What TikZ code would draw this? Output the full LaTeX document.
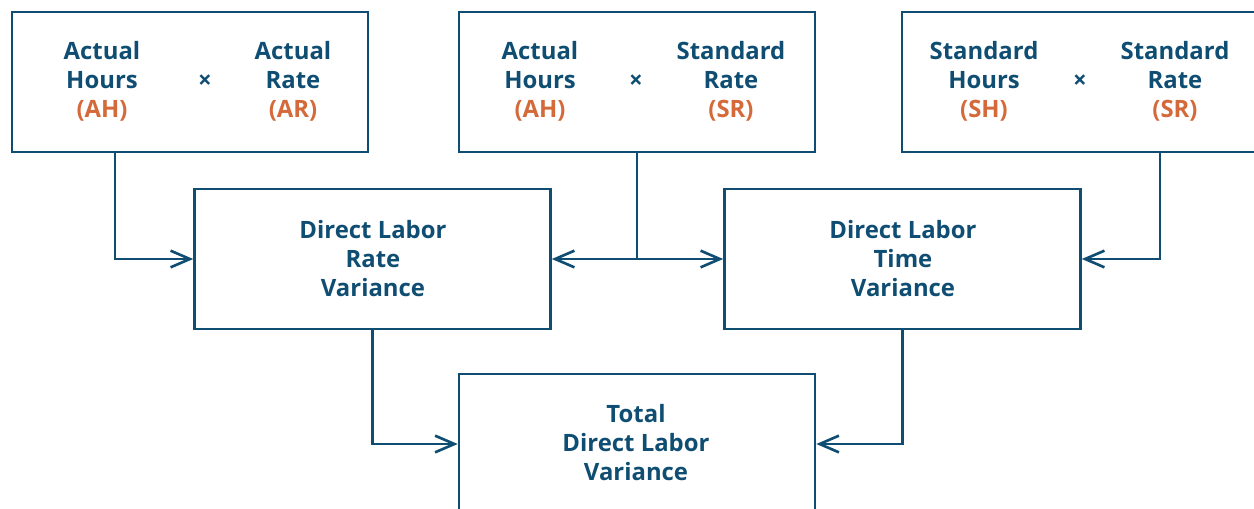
\documentclass[tikz,border=0pt]{standalone}
\usepackage{fontspec}
\setmainfont{Open Sans}
\usetikzlibrary{arrows.meta, positioning}
\definecolor{lblue}{HTML}{0F4E72}
\definecolor{lorange}{HTML}{D4693A}

\begin{document}
\begin{tikzpicture}[x=0.02cm, y=-0.02cm,
    box/.style={draw=lblue, line width=1.5pt, minimum width=7.12cm, minimum height=2.8cm, inner sep=0pt},
    txt/.style={font=\fontsize{13.6}{16.5}\selectfont\bfseries, text=lblue, align=center, inner sep=0pt},
    arr/.style={draw=lblue, line width=1.5pt, -{Straight Barb[length=11pt, width=9.5pt]}}]
    \useasboundingbox (0,0) rectangle (1254,508);
    % === TOP: the three products ===
    \node[box] (actact) at (190,82) {};
    \node[box] (actstd) at (637,82) {};
    \node[box] (stdstd) at (1080,82) {};
    \node[txt] (ah1) at (102,81.5) {Actual\\Hours\\\textcolor{lorange}{(AH)}};
    \node[txt] (times1) at (205,81.5) {×};
    \node[txt] (ar) at (293,81.5) {Actual\\Rate\\\textcolor{lorange}{(AR)}};
    \node[txt] (ah2) at (540,81.5) {Actual\\Hours\\\textcolor{lorange}{(AH)}};
    \node[txt] (times2) at (636,81.5) {×};
    \node[txt] (sr1) at (731,81.5) {Standard\\Rate\\\textcolor{lorange}{(SR)}};
    \node[txt] (sh) at (984,81.5) {Standard\\Hours\\\textcolor{lorange}{(SH)}};
    \node[txt] (times3) at (1080,81.5) {×};
    \node[txt] (sr2) at (1175,81.5) {Standard\\Rate\\\textcolor{lorange}{(SR)}};
    % === MIDDLE: the two variances ===
    \node[box] (rate) at (372.5,259) {};
    \node[box] (time) at (902.5,259) {};
    \node[txt] (ratetxt) at (373,259) {Direct Labor\\Rate\\Variance};
    \node[txt] (timetxt) at (903,259) {Direct Labor\\Time\\Variance};
    % === BOTTOM: total ===
    \node[box] (total) at (637,444) {};
    \node[txt] (totaltxt) at (636,443) {Total\\Direct Labor\\Variance};
    % connectors
    \coordinate (c1) at (115,152);
    \coordinate (c3) at (1160,152);
    \draw[arr] (c1) |- (rate.west);
    \draw[arr] (actstd.south) |- (rate.east);
    \draw[arr] (actstd.south) |- (time.west);
    \draw[arr] (c3) |- (time.east);
    \draw[arr] (rate.south) |- (total.west);
    \draw[arr] (time.south) |- (total.east);
\end{tikzpicture}
\end{document}
